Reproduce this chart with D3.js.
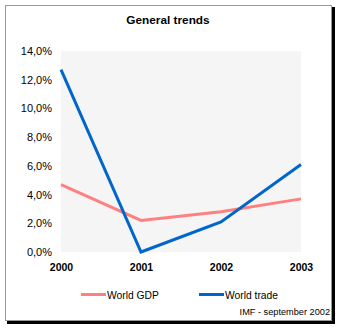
<!DOCTYPE html>
<html lang="en">
<head>
  <meta charset="utf-8">
  <title>General trends</title>
  <script src="https://d3js.org/d3.v7.min.js"></script>
  <style>
    body { margin: 0; background: #fff; }
    text { font-family: "Liberation Sans", Arial, sans-serif; fill: #000; }
    .axis path.domain, .axis line { display: none; }
    .yaxis text { font-size: 11px; }
    .xaxis text { font-size: 10.5px; font-weight: bold; }
  </style>
</head>
<body>
<script>
  // data
  const years = ["2000", "2001", "2002", "2003"];
  const worldGdp = [4.7, 2.2, 2.8, 3.7];
  const worldTrade = [12.7, 0.0, 2.1, 6.1];
  const yTicks = [0, 2, 4, 6, 8, 10, 12, 14];
  const seriesNames = ["World GDP", "World trade"];
  const seriesColors = ["#ff8080", "#0066cc"];

  const width = 339, height = 328;
  const plot = { left: 61, top: 51, right: 301, bottom: 252 };

  const svg = d3.select("body").append("svg")
    .attr("width", width).attr("height", height);

  // frame with shadow
  svg.append("rect").attr("x", 7).attr("y", 7).attr("width", 328).attr("height", 317).attr("fill", "#000");
  svg.append("rect").attr("x", 5.5).attr("y", 5.5).attr("width", 326).attr("height", 315)
    .attr("fill", "#fff").attr("stroke", "#999").attr("stroke-width", 1);

  svg.append("text").text("General trends")
    .attr("x", 168).attr("y", 24)
    .attr("text-anchor", "middle")
    .style("font-size", "11.8px").style("font-weight", "bold");

  svg.append("rect")
    .attr("x", plot.left).attr("y", plot.top)
    .attr("width", plot.right - plot.left).attr("height", plot.bottom - plot.top)
    .attr("fill", "#f5f5f5");

  const x = d3.scalePoint().domain(years).range([plot.left, plot.right]);
  const y = d3.scaleLinear().domain([0, 14]).range([plot.bottom, plot.top]);

  const fmt = d => d.toFixed(1).replace(".", ",") + "%";

  svg.append("g").attr("class", "axis yaxis")
    .attr("transform", `translate(${plot.left},0)`)
    .call(d3.axisLeft(y).tickValues(yTicks).tickFormat(fmt).tickSize(0).tickPadding(9));

  svg.append("g").attr("class", "axis xaxis")
    .attr("transform", `translate(0,${plot.bottom})`)
    .call(d3.axisBottom(x).tickSize(0).tickPadding(12));

  const line = d3.line().x((d, i) => x(years[i])).y(d => y(d));
  [worldGdp, worldTrade].forEach((s, k) => {
    svg.append("path").datum(s)
      .attr("d", line)
      .attr("fill", "none")
      .attr("stroke", seriesColors[k])
      .attr("stroke-width", 3)
      .attr("stroke-linejoin", "miter");
  });

  // legend
  const legendX = [81, 199];
  seriesNames.forEach((name, k) => {
    const g = svg.append("g").attr("transform", `translate(${legendX[k]},294.5)`);
    g.append("line").attr("x1", 0).attr("x2", 25)
      .attr("stroke", seriesColors[k]).attr("stroke-width", 3);
    g.append("text").text(name).attr("x", 26).attr("y", 4)
      .style("font-size", "10.3px");
  });

  svg.append("text").text("IMF - september 2002")
    .attr("x", 330).attr("y", 315)
    .attr("text-anchor", "end")
    .style("font-size", "9.2px");
</script>
</body>
</html>
